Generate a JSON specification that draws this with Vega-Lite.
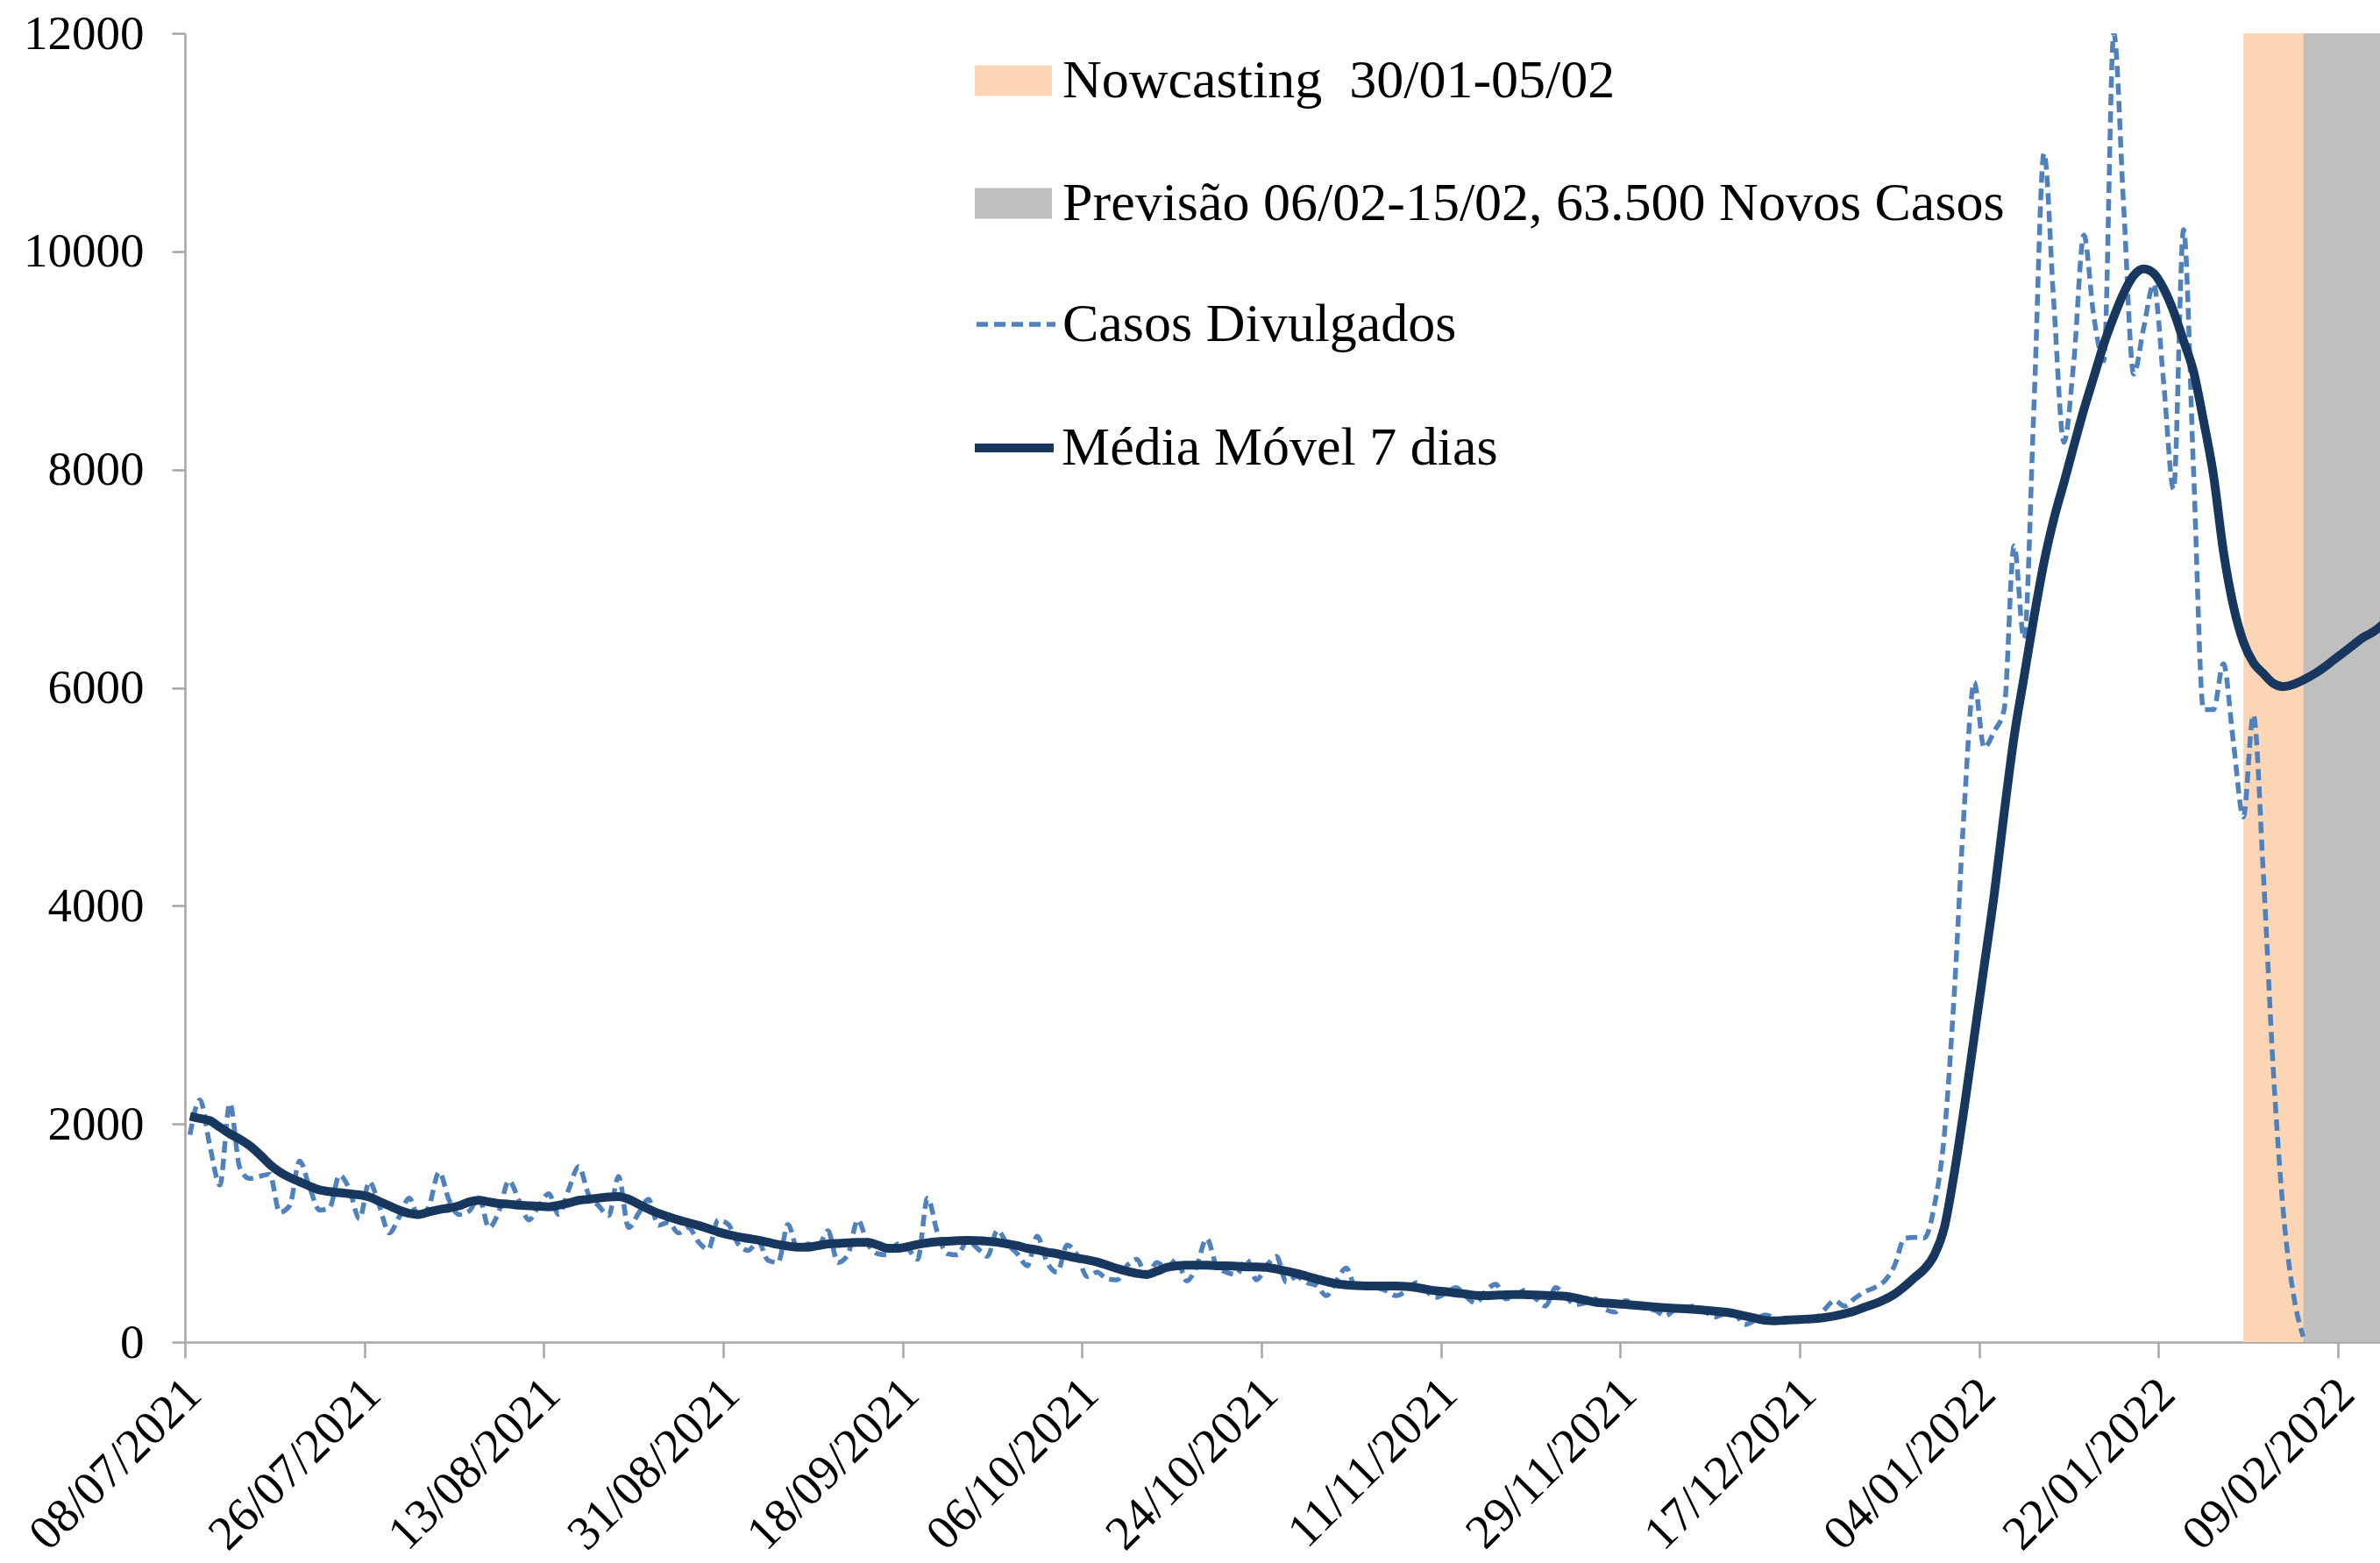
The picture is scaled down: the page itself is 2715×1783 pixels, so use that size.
{
  "$schema": "https://vega.github.io/schema/vega-lite/v6.json",
  "width": 2504,
  "height": 1493,
  "autosize": {"type": "none"},
  "padding": {"left": 211, "top": 38, "right": 0, "bottom": 252},
  "background": "white",
  "config": {
    "view": {"stroke": null},
    "font": "Liberation Serif",
    "axis": {"grid": false, "title": null, "labelFont": "Liberation Serif", "labelFontSize": 55, "labelColor": "#000000", "domainColor": "#A6A6A6", "tickColor": "#A6A6A6", "domainWidth": 2.5, "tickWidth": 2.5, "labelLimit": 2000},
    "legend": {"title": null, "orient": "none", "padding": 0, "labelFont": "Liberation Serif", "labelFontSize": 62, "labelColor": "#000000", "labelLimit": 3000}
  },
  "datasets": {
    "bandas": [
      {"d": "2022-01-30", "d2": "2022-02-05", "faixa": "Nowcasting\u00a0 30/01-05/02"},
      {"d": "2022-02-05", "d2": "2022-02-15", "faixa": "Previsão 06/02-15/02, 63.500 Novos Casos"}
    ],
    "serie": [
      {"d": "2021-07-08", "c": 1900, "m": 2070},
      {"d": "2021-07-09", "c": 2220, "m": 2050},
      {"d": "2021-07-10", "c": 1800, "m": 2030},
      {"d": "2021-07-11", "c": 1440, "m": 1970},
      {"d": "2021-07-12", "c": 2190, "m": 1910},
      {"d": "2021-07-13", "c": 1600, "m": 1860},
      {"d": "2021-07-14", "c": 1500, "m": 1800},
      {"d": "2021-07-15", "c": 1520, "m": 1720},
      {"d": "2021-07-16", "c": 1540, "m": 1630},
      {"d": "2021-07-17", "c": 1190, "m": 1560},
      {"d": "2021-07-18", "c": 1250, "m": 1510},
      {"d": "2021-07-19", "c": 1660, "m": 1470},
      {"d": "2021-07-20", "c": 1420, "m": 1430},
      {"d": "2021-07-21", "c": 1210, "m": 1395},
      {"d": "2021-07-22", "c": 1230, "m": 1380},
      {"d": "2021-07-23", "c": 1530, "m": 1370},
      {"d": "2021-07-24", "c": 1400, "m": 1360},
      {"d": "2021-07-25", "c": 1130, "m": 1350},
      {"d": "2021-07-26", "c": 1470, "m": 1330},
      {"d": "2021-07-27", "c": 1250, "m": 1290},
      {"d": "2021-07-28", "c": 1000, "m": 1250},
      {"d": "2021-07-29", "c": 1150, "m": 1210},
      {"d": "2021-07-30", "c": 1320, "m": 1180},
      {"d": "2021-07-31", "c": 1130, "m": 1170},
      {"d": "2021-08-01", "c": 1250, "m": 1195},
      {"d": "2021-08-02", "c": 1560, "m": 1215},
      {"d": "2021-08-03", "c": 1300, "m": 1230},
      {"d": "2021-08-04", "c": 1170, "m": 1250},
      {"d": "2021-08-05", "c": 1200, "m": 1285},
      {"d": "2021-08-06", "c": 1320, "m": 1300},
      {"d": "2021-08-07", "c": 1050, "m": 1285},
      {"d": "2021-08-08", "c": 1200, "m": 1270},
      {"d": "2021-08-09", "c": 1480, "m": 1265},
      {"d": "2021-08-10", "c": 1300, "m": 1255},
      {"d": "2021-08-11", "c": 1120, "m": 1250},
      {"d": "2021-08-12", "c": 1250, "m": 1245},
      {"d": "2021-08-13", "c": 1360, "m": 1240},
      {"d": "2021-08-14", "c": 1170, "m": 1255},
      {"d": "2021-08-15", "c": 1400, "m": 1275},
      {"d": "2021-08-16", "c": 1610, "m": 1300},
      {"d": "2021-08-17", "c": 1350, "m": 1310},
      {"d": "2021-08-18", "c": 1250, "m": 1320},
      {"d": "2021-08-19", "c": 1160, "m": 1330},
      {"d": "2021-08-20", "c": 1520, "m": 1335},
      {"d": "2021-08-21", "c": 1050, "m": 1310},
      {"d": "2021-08-22", "c": 1180, "m": 1265},
      {"d": "2021-08-23", "c": 1310, "m": 1220},
      {"d": "2021-08-24", "c": 1070, "m": 1180},
      {"d": "2021-08-25", "c": 1100, "m": 1150},
      {"d": "2021-08-26", "c": 1000, "m": 1120},
      {"d": "2021-08-27", "c": 1050, "m": 1095},
      {"d": "2021-08-28", "c": 920, "m": 1070},
      {"d": "2021-08-29", "c": 850, "m": 1040},
      {"d": "2021-08-30", "c": 1120, "m": 1010},
      {"d": "2021-08-31", "c": 1080, "m": 985},
      {"d": "2021-09-01", "c": 900, "m": 965},
      {"d": "2021-09-02", "c": 840, "m": 950},
      {"d": "2021-09-03", "c": 920, "m": 935},
      {"d": "2021-09-04", "c": 750, "m": 915},
      {"d": "2021-09-05", "c": 730, "m": 895},
      {"d": "2021-09-06", "c": 1080, "m": 880},
      {"d": "2021-09-07", "c": 840, "m": 870},
      {"d": "2021-09-08", "c": 900, "m": 870},
      {"d": "2021-09-09", "c": 880, "m": 885},
      {"d": "2021-09-10", "c": 1020, "m": 900},
      {"d": "2021-09-11", "c": 730, "m": 905},
      {"d": "2021-09-12", "c": 800, "m": 910},
      {"d": "2021-09-13", "c": 1120, "m": 915},
      {"d": "2021-09-14", "c": 900, "m": 915},
      {"d": "2021-09-15", "c": 810, "m": 890},
      {"d": "2021-09-16", "c": 800, "m": 860},
      {"d": "2021-09-17", "c": 900, "m": 860},
      {"d": "2021-09-18", "c": 860, "m": 875},
      {"d": "2021-09-19", "c": 760, "m": 895},
      {"d": "2021-09-20", "c": 1320, "m": 910},
      {"d": "2021-09-21", "c": 1000, "m": 920},
      {"d": "2021-09-22", "c": 810, "m": 925},
      {"d": "2021-09-23", "c": 800, "m": 930},
      {"d": "2021-09-24", "c": 930, "m": 932},
      {"d": "2021-09-25", "c": 860, "m": 930},
      {"d": "2021-09-26", "c": 785, "m": 925},
      {"d": "2021-09-27", "c": 1025, "m": 915},
      {"d": "2021-09-28", "c": 900, "m": 900},
      {"d": "2021-09-29", "c": 810, "m": 885},
      {"d": "2021-09-30", "c": 700, "m": 860},
      {"d": "2021-10-01", "c": 970, "m": 845},
      {"d": "2021-10-02", "c": 730, "m": 825},
      {"d": "2021-10-03", "c": 640, "m": 810},
      {"d": "2021-10-04", "c": 890, "m": 790},
      {"d": "2021-10-05", "c": 800, "m": 770},
      {"d": "2021-10-06", "c": 600, "m": 755},
      {"d": "2021-10-07", "c": 640, "m": 735},
      {"d": "2021-10-08", "c": 580, "m": 705},
      {"d": "2021-10-09", "c": 570, "m": 675},
      {"d": "2021-10-10", "c": 700, "m": 650},
      {"d": "2021-10-11", "c": 760, "m": 630},
      {"d": "2021-10-12", "c": 600, "m": 620},
      {"d": "2021-10-13", "c": 730, "m": 650},
      {"d": "2021-10-14", "c": 680, "m": 685},
      {"d": "2021-10-15", "c": 760, "m": 700},
      {"d": "2021-10-16", "c": 560, "m": 705},
      {"d": "2021-10-17", "c": 700, "m": 705},
      {"d": "2021-10-18", "c": 950, "m": 705},
      {"d": "2021-10-19", "c": 700, "m": 700},
      {"d": "2021-10-20", "c": 640, "m": 700},
      {"d": "2021-10-21", "c": 620, "m": 695},
      {"d": "2021-10-22", "c": 760, "m": 690},
      {"d": "2021-10-23", "c": 570, "m": 690},
      {"d": "2021-10-24", "c": 700, "m": 685},
      {"d": "2021-10-25", "c": 785, "m": 670},
      {"d": "2021-10-26", "c": 550, "m": 650},
      {"d": "2021-10-27", "c": 600, "m": 630},
      {"d": "2021-10-28", "c": 545, "m": 605},
      {"d": "2021-10-29", "c": 520, "m": 580},
      {"d": "2021-10-30", "c": 425, "m": 555},
      {"d": "2021-10-31", "c": 560, "m": 535},
      {"d": "2021-11-01", "c": 680, "m": 525},
      {"d": "2021-11-02", "c": 490, "m": 518},
      {"d": "2021-11-03", "c": 530, "m": 515},
      {"d": "2021-11-04", "c": 500, "m": 515},
      {"d": "2021-11-05", "c": 470, "m": 515},
      {"d": "2021-11-06", "c": 425, "m": 515},
      {"d": "2021-11-07", "c": 470, "m": 510},
      {"d": "2021-11-08", "c": 545, "m": 500},
      {"d": "2021-11-09", "c": 470, "m": 485},
      {"d": "2021-11-10", "c": 410, "m": 470},
      {"d": "2021-11-11", "c": 450, "m": 462},
      {"d": "2021-11-12", "c": 500, "m": 450},
      {"d": "2021-11-13", "c": 420, "m": 440},
      {"d": "2021-11-14", "c": 356, "m": 428},
      {"d": "2021-11-15", "c": 470, "m": 425},
      {"d": "2021-11-16", "c": 530, "m": 430},
      {"d": "2021-11-17", "c": 396, "m": 435},
      {"d": "2021-11-18", "c": 430, "m": 437},
      {"d": "2021-11-19", "c": 476, "m": 435},
      {"d": "2021-11-20", "c": 400, "m": 432},
      {"d": "2021-11-21", "c": 330, "m": 428},
      {"d": "2021-11-22", "c": 500, "m": 425},
      {"d": "2021-11-23", "c": 420, "m": 420},
      {"d": "2021-11-24", "c": 342, "m": 405},
      {"d": "2021-11-25", "c": 360, "m": 385},
      {"d": "2021-11-26", "c": 396, "m": 365},
      {"d": "2021-11-27", "c": 300, "m": 358},
      {"d": "2021-11-28", "c": 276, "m": 352},
      {"d": "2021-11-29", "c": 380, "m": 345},
      {"d": "2021-11-30", "c": 350, "m": 338},
      {"d": "2021-12-01", "c": 310, "m": 330},
      {"d": "2021-12-02", "c": 290, "m": 322},
      {"d": "2021-12-03", "c": 240, "m": 315},
      {"d": "2021-12-04", "c": 300, "m": 310},
      {"d": "2021-12-05", "c": 320, "m": 305},
      {"d": "2021-12-06", "c": 330, "m": 300},
      {"d": "2021-12-07", "c": 280, "m": 292},
      {"d": "2021-12-08", "c": 230, "m": 284},
      {"d": "2021-12-09", "c": 260, "m": 275},
      {"d": "2021-12-10", "c": 250, "m": 260},
      {"d": "2021-12-11", "c": 160, "m": 240},
      {"d": "2021-12-12", "c": 200, "m": 220},
      {"d": "2021-12-13", "c": 250, "m": 200},
      {"d": "2021-12-14", "c": 220, "m": 195},
      {"d": "2021-12-15", "c": 180, "m": 200},
      {"d": "2021-12-16", "c": 200, "m": 205},
      {"d": "2021-12-17", "c": 190, "m": 210},
      {"d": "2021-12-18", "c": 210, "m": 215},
      {"d": "2021-12-19", "c": 300, "m": 225},
      {"d": "2021-12-20", "c": 380, "m": 240},
      {"d": "2021-12-21", "c": 330, "m": 260},
      {"d": "2021-12-22", "c": 400, "m": 285},
      {"d": "2021-12-23", "c": 460, "m": 320},
      {"d": "2021-12-24", "c": 500, "m": 350},
      {"d": "2021-12-25", "c": 560, "m": 390},
      {"d": "2021-12-26", "c": 700, "m": 440},
      {"d": "2021-12-27", "c": 950, "m": 510},
      {"d": "2021-12-28", "c": 960, "m": 590},
      {"d": "2021-12-29", "c": 955, "m": 670},
      {"d": "2021-12-30", "c": 1250, "m": 800},
      {"d": "2021-12-31", "c": 1900, "m": 1050},
      {"d": "2022-01-01", "c": 3200, "m": 1550},
      {"d": "2022-01-02", "c": 4900, "m": 2150},
      {"d": "2022-01-03", "c": 6050, "m": 2800},
      {"d": "2022-01-04", "c": 5450, "m": 3450},
      {"d": "2022-01-05", "c": 5600, "m": 4100},
      {"d": "2022-01-06", "c": 5800, "m": 4850},
      {"d": "2022-01-07", "c": 7300, "m": 5550},
      {"d": "2022-01-08", "c": 6450, "m": 6100},
      {"d": "2022-01-09", "c": 8600, "m": 6650},
      {"d": "2022-01-10", "c": 10900, "m": 7150},
      {"d": "2022-01-11", "c": 9500, "m": 7550},
      {"d": "2022-01-12", "c": 8250, "m": 7880},
      {"d": "2022-01-13", "c": 9000, "m": 8220},
      {"d": "2022-01-14", "c": 10150, "m": 8550},
      {"d": "2022-01-15", "c": 9400, "m": 8850},
      {"d": "2022-01-16", "c": 9000, "m": 9150},
      {"d": "2022-01-17", "c": 12000, "m": 9400},
      {"d": "2022-01-18", "c": 10400, "m": 9620},
      {"d": "2022-01-19", "c": 8875, "m": 9780},
      {"d": "2022-01-20", "c": 9300, "m": 9840},
      {"d": "2022-01-21", "c": 9700, "m": 9800},
      {"d": "2022-01-22", "c": 8800, "m": 9660},
      {"d": "2022-01-23", "c": 7820, "m": 9450},
      {"d": "2022-01-24", "c": 10200, "m": 9180},
      {"d": "2022-01-25", "c": 8000, "m": 8900},
      {"d": "2022-01-26", "c": 5800, "m": 8450},
      {"d": "2022-01-27", "c": 5800, "m": 7950},
      {"d": "2022-01-28", "c": 6220, "m": 7250},
      {"d": "2022-01-29", "c": 5500, "m": 6750},
      {"d": "2022-01-30", "c": 4815, "m": 6420},
      {"d": "2022-01-31", "c": 5750, "m": 6230},
      {"d": "2022-02-01", "c": 4300, "m": 6130},
      {"d": "2022-02-02", "c": 2500, "m": 6040},
      {"d": "2022-02-03", "c": 1200, "m": 6010},
      {"d": "2022-02-04", "c": 450, "m": 6030},
      {"d": "2022-02-05", "c": 50, "m": 6070},
      {"d": "2022-02-06", "m": 6120},
      {"d": "2022-02-07", "m": 6180},
      {"d": "2022-02-08", "m": 6250},
      {"d": "2022-02-09", "m": 6320},
      {"d": "2022-02-10", "m": 6390},
      {"d": "2022-02-11", "m": 6460},
      {"d": "2022-02-12", "m": 6510},
      {"d": "2022-02-13", "m": 6580},
      {"d": "2022-02-14", "m": 6650},
      {"d": "2022-02-15", "m": 6720}
    ]
  },
  "encoding": {
    "x": {
      "field": "d", "type": "temporal",
      "scale": {"type": "utc", "domain": [{"year": 2021, "month": 7, "date": 8, "utc": true}, {"year": 2022, "month": 2, "date": 13, "hours": 5, "utc": true}]},
      "axis": {
        "title": null,
        "values": [
          {"year": 2021, "month": 7, "date": 8, "utc": true},
          {"year": 2021, "month": 7, "date": 26, "utc": true},
          {"year": 2021, "month": 8, "date": 13, "utc": true},
          {"year": 2021, "month": 8, "date": 31, "utc": true},
          {"year": 2021, "month": 9, "date": 18, "utc": true},
          {"year": 2021, "month": 10, "date": 6, "utc": true},
          {"year": 2021, "month": 10, "date": 24, "utc": true},
          {"year": 2021, "month": 11, "date": 11, "utc": true},
          {"year": 2021, "month": 11, "date": 29, "utc": true},
          {"year": 2021, "month": 12, "date": 17, "utc": true},
          {"year": 2022, "month": 1, "date": 4, "utc": true},
          {"year": 2022, "month": 1, "date": 22, "utc": true},
          {"year": 2022, "month": 2, "date": 9, "utc": true}
        ],
        "format": "%d/%m/%Y",
        "labelAngle": -45, "labelAlign": "right", "labelBaseline": "middle",
        "tickSize": 18, "labelPadding": 32, "labelOffset": 9, "labelOverlap": false, "labelFlush": false, "labelBound": false, "labelLimit": 2000
      }
    }
  },
  "layer": [
    {
      "data": {"name": "bandas"},
      "mark": {"type": "rect", "xOffset": 5.69, "x2Offset": 5.69, "clip": true},
      "encoding": {
        "x2": {"field": "d2"},
        "fill": {
          "field": "faixa", "type": "nominal",
          "scale": {"domain": ["Nowcasting\u00a0 30/01-05/02", "Previsão 06/02-15/02, 63.500 Novos Casos"], "range": ["#FCD5B5", "#BFBFBF"]},
          "legend": {
            "legendX": 901, "legendY": 10,
            "symbolType": "M-1,-0.4H1V0.4H-1Z", "symbolSize": 7744, "symbolStrokeWidth": 0, "symbolOpacity": 1,
            "labelOffset": 12, "rowPadding": 65
          }
        }
      }
    },
    {
      "data": {"name": "serie"},
      "mark": {"type": "line", "interpolate": "monotone", "xOffset": 5.69, "clip": true, "strokeWidth": 5.5, "strokeDash": [13, 7]},
      "encoding": {
        "y": {
          "field": "c", "type": "quantitative",
          "scale": {"domain": [0, 12000], "nice": false, "zero": true},
          "axis": {"title": null, "values": [0, 2000, 4000, 6000, 8000, 10000, 12000], "format": "d", "tickSize": 15, "labelPadding": 32}
        },
        "color": {
          "datum": "Casos Divulgados",
          "scale": {"domain": ["Casos Divulgados"], "range": ["#4F81BD"]},
          "legend": {
            "legendX": 900, "legendY": 284,
            "symbolType": "stroke", "symbolSize": 8100, "symbolStrokeWidth": 5.5, "symbolDash": [13, 7],
            "labelOffset": 5
          }
        }
      }
    },
    {
      "data": {"name": "serie"},
      "mark": {"type": "line", "interpolate": "monotone", "xOffset": 5.69, "clip": true, "strokeWidth": 10},
      "encoding": {
        "y": {"field": "m", "type": "quantitative"},
        "color": {
          "datum": "Média Móvel 7 dias",
          "scale": {"domain": ["Média Móvel 7 dias"], "range": ["#17375E"]},
          "legend": {
            "legendX": 896, "legendY": 423,
            "symbolType": "stroke", "symbolSize": 8100, "symbolStrokeWidth": 10,
            "labelOffset": 4
          }
        }
      }
    }
  ],
  "resolve": {"scale": {"color": "independent"}}
}
